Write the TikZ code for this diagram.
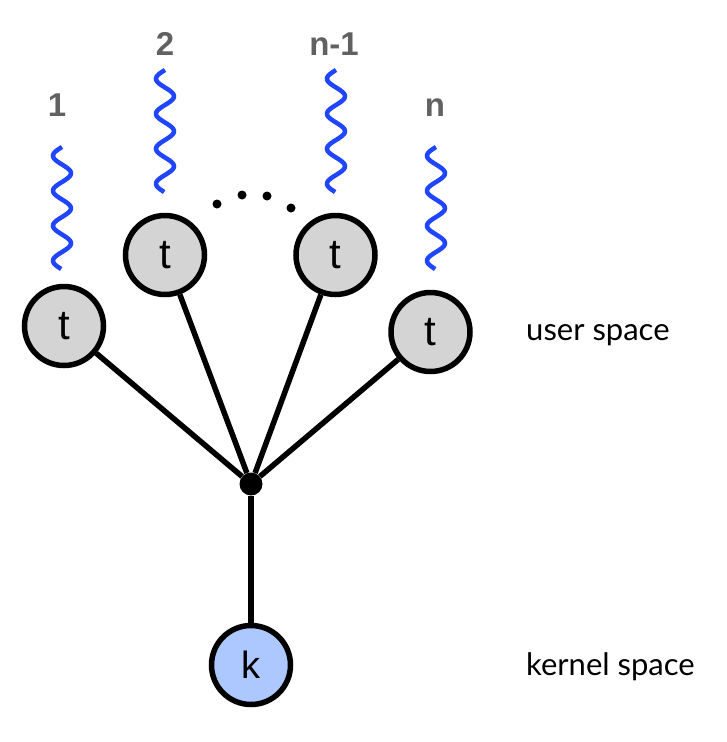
\documentclass[tikz,border=0pt]{standalone}
\usepackage{fontspec}
\setmainfont{Lato}
\newfontfamily\numfont{Liberation Sans}
\usetikzlibrary{positioning}
\definecolor{tgray}{rgb}{0.83, 0.83, 0.83}
\definecolor{kblue}{rgb}{0.68, 0.78, 1.0}
\definecolor{wblue}{rgb}{0.12, 0.27, 1.0}
\definecolor{lgray}{rgb}{0.38, 0.38, 0.38}
\tikzset{proc/.style = {circle, draw, line width = 5.5, minimum size = 79, inner sep = 0}}
\tikzset{thread/.style = {proc, fill = tgray, font = \numfont\fontsize{42}{42}\selectfont}}
\tikzset{kern/.style = {proc, fill = kblue, font = \numfont\fontsize{38}{38}\selectfont}}
\tikzset{circ/.style = {fill, circle, inner sep = 0, minimum size = 23}}
\tikzset{link/.style = {line width = 5.5}}
\tikzset{photon/.style = {wblue, line width = 4.5}}
\tikzset{tag/.style = {lgray, anchor = base, font = \numfont\bfseries\fontsize{33}{33}\selectfont}}
\tikzset{space/.style = {anchor = base west, inner sep = 0, font = \fontsize{31}{31}\selectfont}}

\begin{document}
\begin{tikzpicture}[x = 1pt, y = -1pt]
    \useasboundingbox (0, 0) rectangle (726, 742);

    \node [thread] (t1) at (64, 326) {t};
    \node [thread] (t2) at (165, 255) {t};
    \node [thread] (t3) at (335.5, 255) {t};
    \node [thread] (t4) at (430.5, 332) {t};
    \node [circ] (hub) at (251, 484) {};
    \node [kern] (k) at (251, 665) {k};

    \foreach \t in {t1, t2, t3, t4}
        \draw [link] (\t) -- (hub);
    \draw [link] (hub) -- (k);

    % requests coming in
    \foreach \cx/\cy/\lx/\ly/\num [count=\i] in {62/147/57/116/1, 165/70/165/55/2,
                                                336/70/334/55/n-1, 436/147/435/116/n} {
        \draw [photon] plot [domain=0:122, samples=100, smooth] ({\cx - 9*sin(\x*10.2857)}, {\cy + \x});
        \node [tag] (lab\i) at (\lx, \ly) {\num};
    }

    \foreach \p in {(217, 204), (242, 195), (267, 196), (291, 208)}
        \fill \p circle (4.5);

    \node [space] (user) at (526, 340) {user space};
    \node [space] (kernel) at (526, 675) {kernel space};
\end{tikzpicture}
\end{document}
